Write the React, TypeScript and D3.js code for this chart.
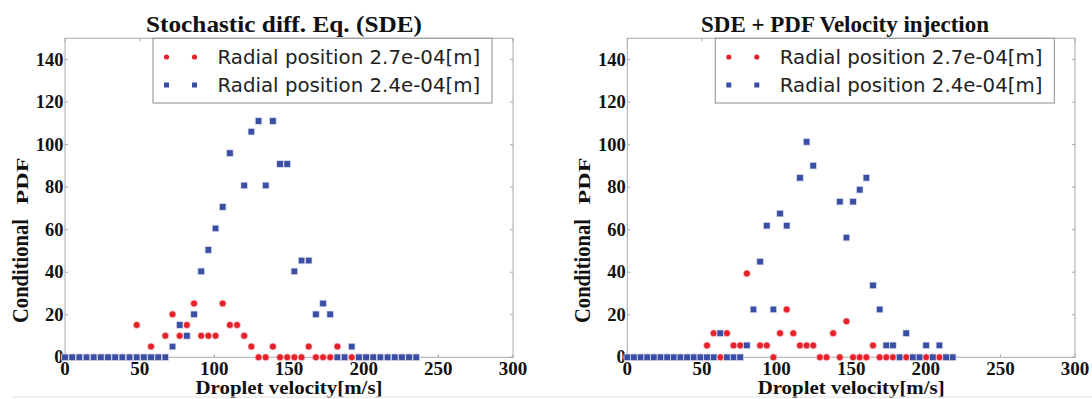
import React from "react";
import * as d3 from "d3";

// ---------- data ----------
const velocitySDE = [
  0, 4.8, 9.6, 14.4, 19.2, 24.0, 28.8, 33.6, 38.4, 43.2,
  48.0, 52.8, 57.6, 62.4, 67.2, 72.0, 76.8, 81.6, 86.4, 91.2,
  96.0, 100.8, 105.6, 110.4, 115.2, 120.0, 124.8, 129.6, 134.4, 139.2,
  144.0, 148.8, 153.6, 158.4, 163.2, 168.0, 172.8, 177.6, 182.4, 187.2,
  192.0, 196.8, 201.6, 206.4, 211.2, 216.0, 220.8, 225.6, 230.4, 235.2,
];
const redSDE: (number | null)[] = [
  0, 0, 0, 0, 0, 0, 0, 0, 0, 0,
  15.2, 0, 5.05, 0, 10.1, 20.2, 10.1, 15.2, 25.3, 10.1,
  10.1, 10.1, 25.3, 15.2, 15.2, 10.1, 5.05, 0, 0, 5.05,
  0, 0, 0, 0, 5.05, 0, 0, 0, 5.05, 0,
  0, 0, 0, 0, 0, 0, 0, 0, 0, 0,
];
const blueSDE: (number | null)[] = [
  0, 0, 0, 0, 0, 0, 0, 0, 0, 0,
  0, 0, 0, 0, 0, 5.05, 15.2, 10.1, 20.2, 40.4,
  50.5, 60.6, 70.7, 96.0, null, 80.8, 106.1, 111.1, 80.8, 111.1,
  90.9, 90.9, 40.4, 45.5, 45.5, 20.2, 25.3, 20.2, 0, 0,
  5.05, 0, 0, 0, 0, 0, 0, 0, 0, 0,
];

const velocityInj = [
  0, 4.45, 8.9, 13.35, 17.8, 22.25, 26.7, 31.15, 35.6, 40.05,
  44.5, 48.95, 53.4, 57.85, 62.3, 66.75, 71.2, 75.65, 80.1, 84.55,
  89.0, 93.45, 97.9, 102.35, 106.8, 111.25, 115.7, 120.15, 124.6, 129.05,
  133.5, 137.95, 142.4, 146.85, 151.3, 155.75, 160.2, 164.65, 169.1, 173.55,
  178.0, 182.45, 186.9, 191.35, 195.8, 200.25, 204.7, 209.15, 213.6, 218.05,
];
const redInj: (number | null)[] = [
  0, 0, 0, 0, 0, 0, 0, 0, 0, 0,
  0, 0, 5.6, 11.3, 0, 11.3, 5.6, 5.6, 39.4, null,
  5.6, 5.6, 0, 11.3, 22.5, 11.3, 5.6, 5.6, 5.6, 0,
  0, 11.3, 0, 16.9, 0, 0, 0, 5.6, 0, 0,
  0, 0, 0, 0, 0, 0, 0, 0, 0, 0,
];
const blueInj: (number | null)[] = [
  0, 0, 0, 0, 0, 0, 0, 0, 0, 0,
  0, 0, 0, 0, 11.3, 0, 0, 0, 5.6, 22.5,
  45.0, 61.9, 22.5, 67.6, 61.9, null, 84.4, 101.3, 90.1, null,
  null, null, 73.2, 56.3, 73.2, 78.8, 84.4, 33.8, 22.5, 5.6,
  5.6, 0, 11.3, 0, 0, 5.6, 0, 5.6, 0, 0,
];

const xTicks = [0, 50, 100, 150, 200, 250, 300];
const yTicks = [0, 20, 40, 60, 80, 100, 120, 140];
const titleSDE = "Stochastic diff. Eq. (SDE)";
const titleInj = "SDE + PDF Velocity injection";
const legendLabels = ["Radial position 2.7e-04[m]", "Radial position 2.4e-04[m]"];
const xLabel = "Droplet velocity[m/s]";
const yLabelMain = "Conditional";
const yLabelUnit = "PDF";

// ---------- styles ----------
const RED = "#e5212b";
const BLUE = "#3a4ea3";
const FRAME = "#a8a8a8";
const SERIF = "'Liberation Serif', 'DejaVu Serif', serif";
const SANS = "'DejaVu Sans', sans-serif";

type PanelProps = {
  left: number;
  right: number;
  titleX: number;
  titleLen: number;
  title: string;
  velocity: number[];
  red: (number | null)[];
  blue: (number | null)[];
};

const TOP = 38.3;
const BOTTOM = 357.3;

function Panel({ left, right, titleX, titleLen, title, velocity, red, blue }: PanelProps) {
  const x = d3.scaleLinear().domain([0, 300]).range([left, right]);
  const y = d3.scaleLinear().domain([0, 150]).range([BOTTOM, TOP]);
  const sq = 6.6;
  const legX = left + 88;
  const legRight = left + 427;
  const labX = left - 37;
  return (
    <g>
      <text x={titleX} y={31.5} textAnchor="middle" fontFamily={SERIF} fontWeight="bold" fontSize={22.5} fill="#111"
        textLength={titleLen} lengthAdjust="spacingAndGlyphs">
        {title}
      </text>
      <rect x={left} y={TOP} width={right - left} height={BOTTOM - TOP} fill="#fff" stroke={FRAME} strokeWidth={1} />
      {xTicks.map((t) => (
        <g key={"xt" + t}>
          <line x1={x(t)} x2={x(t)} y1={BOTTOM} y2={BOTTOM - 3} stroke={FRAME} />
          <line x1={x(t)} x2={x(t)} y1={TOP} y2={TOP + 3} stroke={FRAME} />
          <text x={x(t)} y={374.5} textAnchor="middle" fontFamily={SERIF} fontWeight="bold" fontSize={19} fill="#111">
            {t}
          </text>
        </g>
      ))}
      {yTicks.map((t) => (
        <g key={"yt" + t}>
          <line x1={left} x2={left + 3} y1={y(t)} y2={y(t)} stroke={FRAME} />
          <line x1={right} x2={right - 3} y1={y(t)} y2={y(t)} stroke={FRAME} />
          <text x={left - 1.5} y={y(t) + 6} textAnchor="end" fontFamily={SERIF} fontWeight="bold" fontSize={18.5} fill="#111">
            {t}
          </text>
        </g>
      ))}
      <text x={(left + right) / 2} y={394} textAnchor="middle" fontFamily={SERIF} fontWeight="bold" fontSize={18.5}
        fill="#111" textLength={187} lengthAdjust="spacingAndGlyphs">
        {xLabel}
      </text>
      <text transform={`translate(${labX},${271}) rotate(-90)`} textAnchor="middle" fontFamily={SERIF}
        fontWeight="bold" fontSize={23} fill="#111" textLength={104} lengthAdjust="spacingAndGlyphs">
        {yLabelMain}
      </text>
      <text transform={`translate(${labX},${181}) rotate(-90)`} textAnchor="middle" fontFamily={SERIF}
        fontWeight="bold" fontSize={17} fill="#111" textLength={47} lengthAdjust="spacingAndGlyphs">
        {yLabelUnit}
      </text>
      {red.map((v, i) =>
        v === null ? null : (
          <circle key={"r" + i} cx={x(velocity[i])} cy={y(v)} r={3.5} fill={RED} stroke="#fbe3e3" strokeWidth={0.7} />
        )
      )}
      {blue.map((v, i) =>
        v === null ? null : (
          <rect key={"b" + i} x={x(velocity[i]) - sq / 2} y={y(v) - sq / 2} width={sq} height={sq} fill={BLUE} stroke="#dde2f2" strokeWidth={0.7} />
        )
      )}
      <rect x={legX} y={TOP} width={legRight - legX} height={103 - TOP} fill="#fff" stroke="#8c8c8c" strokeWidth={1} />
      {[0, 1].map((i) => (
        <g key={"lg" + i}>
          {[legX + 13.5, legX + 41.5].map((mx, j) =>
            i === 0 ? (
              <circle key={j} cx={mx} cy={57} r={2.6} fill={RED} />
            ) : (
              <rect key={j} x={mx - 2.5} y={85 - 2.5} width={5} height={5} fill={BLUE} />
            )
          )}
          <text x={legX + 64.5} y={i === 0 ? 63.5 : 91.5} fontFamily={SANS} fontSize={19.8} fill="#222">
            {legendLabels[i]}
          </text>
        </g>
      ))}
    </g>
  );
}

export default function App() {
  return (
    <svg
      width={1092}
      height={399}
      viewBox="0 0 1092 399"
      style={{ position: "absolute", left: 0, top: 0, background: "#fff" }}
    >
      <rect x={0} y={0} width={1092} height={399} fill="#fff" />
      <Panel left={65} right={513} titleX={284} titleLen={276} title={titleSDE} velocity={velocitySDE} red={redSDE} blue={blueSDE} />
      <Panel left={627.3} right={1075} titleX={845} titleLen={288} title={titleInj} velocity={velocityInj} red={redInj} blue={blueInj} />
      <line x1={12} x2={1092} y1={397} y2={397} stroke="#e2e2e2" strokeWidth={1} />
    </svg>
  );
}
